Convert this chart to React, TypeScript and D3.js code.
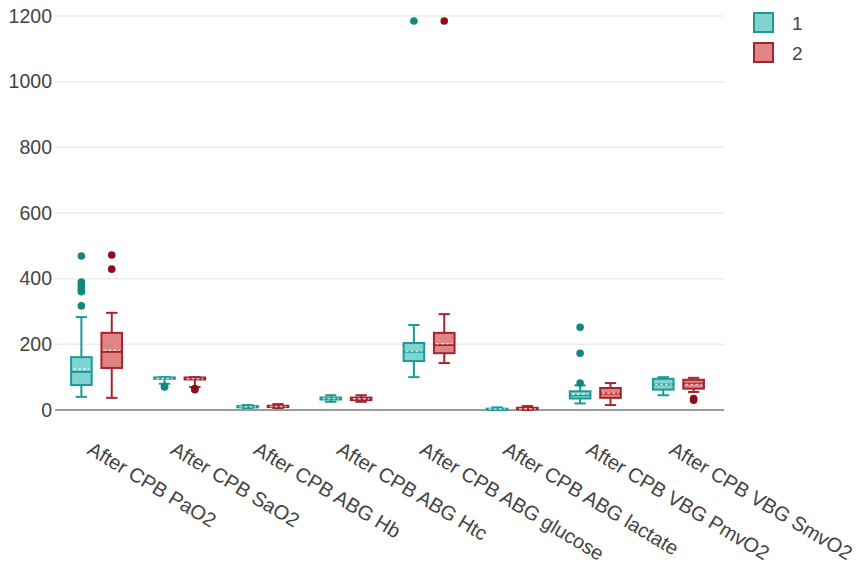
import React from "react";
import * as d3 from "d3";

const categories = [
  "After CPB PaO2",
  "After CPB SaO2",
  "After CPB ABG Hb",
  "After CPB ABG Htc",
  "After CPB ABG glucose",
  "After CPB ABG lactate",
  "After CPB VBG PmvO2",
  "After CPB VBG SmvO2",
];
const seriesNames = ["1", "2"];
const yTicks = [0, 200, 400, 600, 800, 1000, 1200];

// group 1 stats: [lowWhisker, q1, median, q3, highWhisker, mean]
const g1Stats = [
  [40, 76, 116, 161, 283, 125],
  [80, 95, 98, 99, 100, 96],
  [6, 8, 10, 12, 15, 10],
  [25, 32, 35, 38, 45, 35],
  [100, 149, 177, 204, 259, 178],
  [0, 1, 2, 4, 8, 3],
  [20, 35, 45, 57, 75, 48],
  [45, 62, 78, 95, 100, 78],
];
const g1Outliers = [
  [317, 360, 368, 375, 383, 390, 469],
  [70, 72],
  [],
  [],
  [1185],
  [],
  [82, 173, 252],
  [],
];
const g2Stats = [
  [37, 128, 177, 235, 296, 182],
  [70, 93, 97, 99, 100, 95],
  [6, 9, 11, 13, 18, 11],
  [25, 30, 34, 38, 45, 34],
  [143, 173, 198, 235, 292, 202],
  [0, 2, 4, 7, 12, 4],
  [15, 37, 50, 67, 82, 51],
  [55, 65, 80, 92, 98, 78],
];
const g2Outliers = [
  [429, 472],
  [62, 65],
  [],
  [],
  [1185],
  [],
  [],
  [30, 35],
];

const strokeColors = ["#1c9a98", "#a3262e"];
const fillColors = ["#7fd3d1", "#e08484"];
const dotColors = ["#12877d", "#8b0f18"];

export default function App() {
  const width = 857;
  const height = 562;
  const plotLeft = 55;
  const plotRight = 724;
  const y = d3.scaleLinear().domain([0, 1200]).range([410, 16]);
  const x = d3
    .scaleBand()
    .domain(categories)
    .range([plotLeft, plotRight - 4])
    .paddingInner(0)
    .paddingOuter(0);
  const offset = d3
    .scaleBand()
    .domain(seriesNames)
    .range([-25.5, 25.5])
    .paddingInner(0.32)
    .paddingOuter(0);
  const boxW = offset.bandwidth();
  const allStats = [g1Stats, g2Stats];
  const allOut = [g1Outliers, g2Outliers];
  const font = "'Liberation Sans', Arial, sans-serif";

  return (
    <div style={{ position: "absolute", left: 0, top: 0 }}>
      <svg width={width} height={height} style={{ display: "block", fontFamily: font }}>
        <rect x={0} y={0} width={width} height={height} fill="#fff" />
        {yTicks.map((t) => (
          <g key={t}>
            {t !== 0 && (
              <line x1={plotLeft} x2={plotRight} y1={y(t)} y2={y(t)} stroke="#ececec" strokeWidth={1.5} />
            )}
            <text x={52} y={y(t)} dy="0.35em" textAnchor="end" fontSize={19.5} fill="#444">
              {t}
            </text>
          </g>
        ))}
        <line x1={plotLeft} x2={plotRight} y1={y(0)} y2={y(0)} stroke="#7a7a7a" strokeWidth={1.5} />
        {categories.map((c, i) => {
          const cx = (x(c) as number) + x.bandwidth() / 2;
          return (
            <g key={c}>
              {seriesNames.map((s, si) => {
                const [lo, q1, med, q3, hi, mean] = allStats[si][i];
                const bx = cx + (offset(s) as number) + boxW / 2;
                const sc = strokeColors[si];
                const capW = boxW * 0.55;
                return (
                  <g key={s}>
                    <line x1={bx} x2={bx} y1={y(hi)} y2={y(q3)} stroke={sc} strokeWidth={2} />
                    <line x1={bx} x2={bx} y1={y(q1)} y2={y(lo)} stroke={sc} strokeWidth={2} />
                    <line x1={bx - capW / 2} x2={bx + capW / 2} y1={y(hi)} y2={y(hi)} stroke={sc} strokeWidth={2} />
                    <line x1={bx - capW / 2} x2={bx + capW / 2} y1={y(lo)} y2={y(lo)} stroke={sc} strokeWidth={2} />
                    <rect
                      x={bx - boxW / 2}
                      y={y(q3)}
                      width={boxW}
                      height={Math.max(1, y(q1) - y(q3))}
                      fill={fillColors[si]}
                      stroke={sc}
                      strokeWidth={2}
                    />
                    <line x1={bx - boxW / 2} x2={bx + boxW / 2} y1={y(med)} y2={y(med)} stroke={sc} strokeWidth={2} />
                    <line
                      x1={bx - boxW / 2 + 2}
                      x2={bx + boxW / 2 - 2}
                      y1={y(mean)}
                      y2={y(mean)}
                      stroke="#fff"
                      strokeOpacity={0.7}
                      strokeWidth={1.5}
                      strokeDasharray="3,2"
                    />
                    {allOut[si][i].map((o, oi) => (
                      <circle key={oi} cx={bx} cy={y(o)} r={3.8} fill={dotColors[si]} />
                    ))}
                  </g>
                );
              })}
              <text
                transform={`translate(${cx - 10.5},${453}) rotate(31)`}
                textAnchor="start"
                fontSize={20}
                fill="#444"
              >
                {c}
              </text>
            </g>
          );
        })}
        {seriesNames.map((s, si) => (
          <g key={s} transform={`translate(754,${13 + si * 30})`}>
            <rect x={0} y={0} width={19} height={19} fill={fillColors[si]} stroke={strokeColors[si]} strokeWidth={2} />
            <text x={38} y={10} dy="0.35em" fontSize={19} fill="#444">
              {s}
            </text>
          </g>
        ))}
      </svg>
    </div>
  );
}
